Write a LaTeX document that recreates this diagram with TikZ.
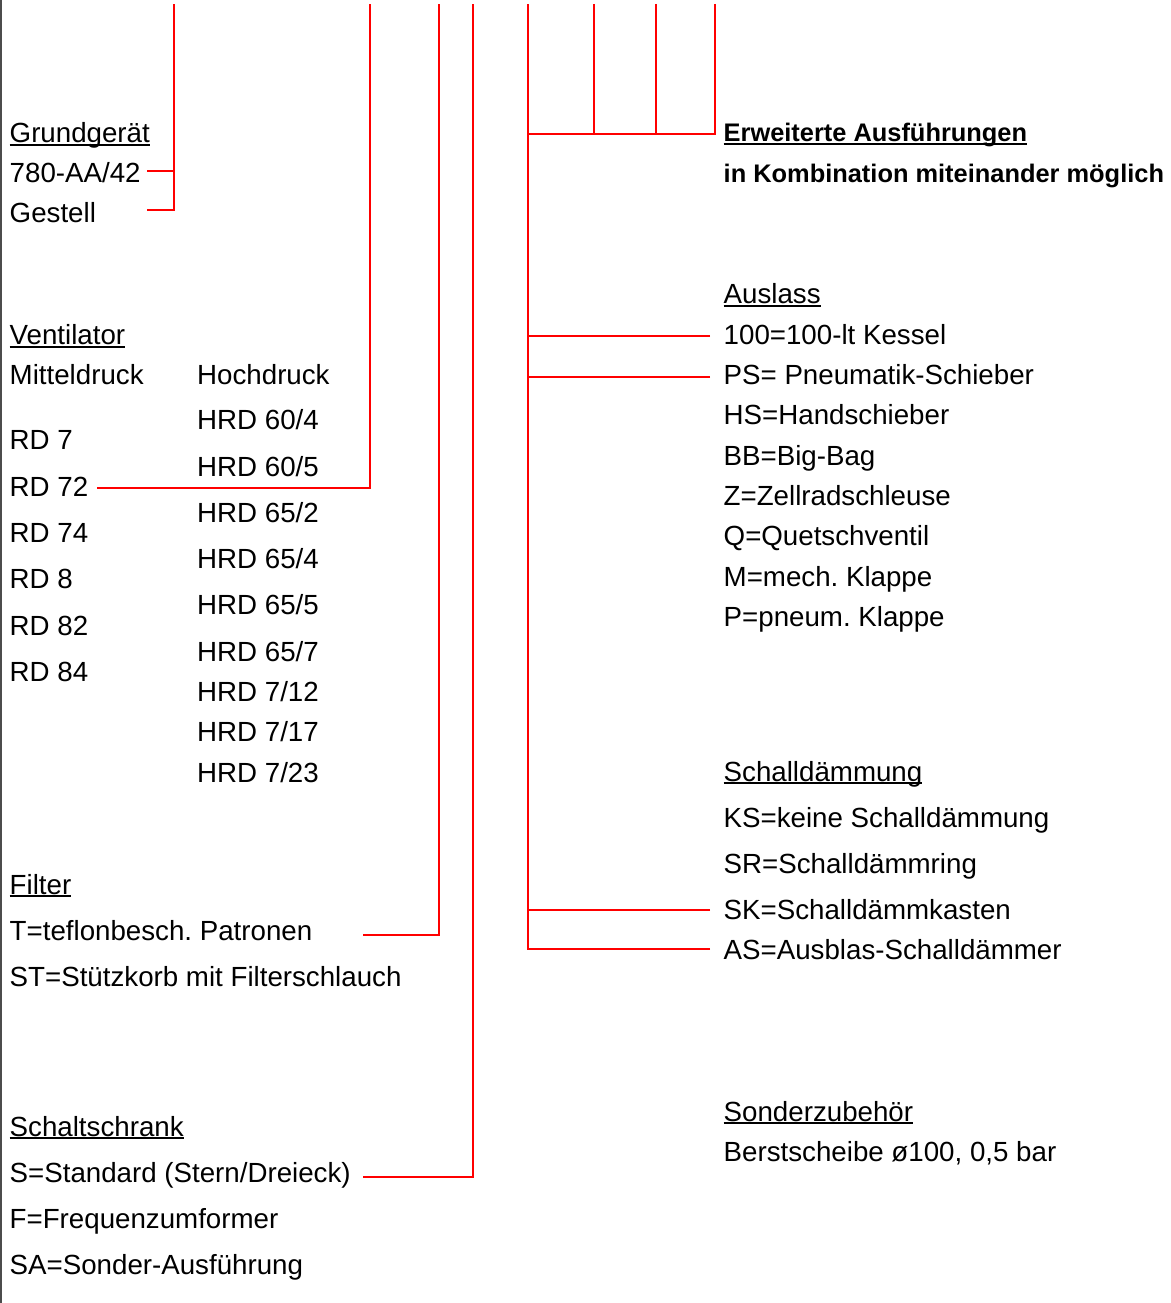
\documentclass[tikz,border=0pt]{standalone}
\usepackage{fontspec}
\setmainfont{Liberation Sans}
\frenchspacing
\newcommand{\ulx}[1]{\setbox0\hbox{#1}\rlap{\copy0}\rule[-3.2pt]{\wd0}{1.9pt}}
\begin{document}
\begin{tikzpicture}[x=1pt,y=-1pt,
  txt/.style={anchor=base west, inner sep=0pt, font=\fontsize{27.7}{33}\selectfont},
  btxt/.style={anchor=base west, inner sep=0pt, font=\fontsize{25.4}{30}\selectfont\bfseries},
  conn/.style={draw=red, line width=1.3pt}]
\useasboundingbox (0,0) rectangle (1170,1303);
\draw[gray!60!black, line width=1.6pt] (1,0) -- (1,1303);
\node[txt] (grund) at (9.5,142.5){\ulx{Grundgerät}};
\node[txt] (aa42) at (9.5,182.5){780-AA/42};
\node[txt] (gestell) at (9.5,222.5){Gestell};
\node[txt] (vent) at (9.5,344.5){\ulx{Ventilator}};
\node[txt] (mittel) at (9.5,384.5){Mitteldruck};
\node[txt] (rd7) at (9.5,449.5){RD 7};
\node[txt] (rd72) at (9.5,496){RD 72};
\node[txt] (rd74) at (9.5,542){RD 74};
\node[txt] (rd8) at (9.5,588.5){RD 8};
\node[txt] (rd82) at (9.5,635){RD 82};
\node[txt] (rd84) at (9.5,681){RD 84};
\node[txt] (hoch) at (197,384.5){Hochdruck};
\node[txt] (hrd604) at (197,429.5){HRD 60/4};
\node[txt] (hrd605) at (197,476){HRD 60/5};
\node[txt] (hrd652) at (197,522){HRD 65/2};
\node[txt] (hrd654) at (197,568){HRD 65/4};
\node[txt] (hrd655) at (197,614){HRD 65/5};
\node[txt] (hrd657) at (197,661){HRD 65/7};
\node[txt] (hrd712) at (197,701){HRD 7/12};
\node[txt] (hrd717) at (197,741){HRD 7/17};
\node[txt] (hrd723) at (197,782){HRD 7/23};
\node[txt] (filter) at (9.5,894){\ulx{Filter}};
\node[txt] (teflon) at (9.5,940){T=teflonbesch. Patronen};
\node[txt] (stuetz) at (9.5,986){ST=Stützkorb mit Filterschlauch};
\node[txt] (schalt) at (9.5,1136){\ulx{Schaltschrank}};
\node[txt] (stand) at (9.5,1182){S=Standard (Stern/Dreieck)};
\node[txt] (freq) at (9.5,1228){F=Frequenzumformer};
\node[txt] (sonder) at (9.5,1274){SA=Sonder-Ausführung};
\node[btxt] (erw) at (723.5,142){\ulx{Erweiterte Ausführungen}};
\node[btxt] (komb) at (723.5,182){in Kombination miteinander möglich};
\node[txt] (auslass) at (723.5,303.5){\ulx{Auslass}};
\node[txt] (kessel) at (723.5,344){100=100-lt Kessel};
\node[txt] (ps) at (723.5,384.5){PS= Pneumatik-Schieber};
\node[txt] (hs) at (723.5,424.5){HS=Handschieber};
\node[txt] (bb) at (723.5,465){BB=Big-Bag};
\node[txt] (zell) at (723.5,505){Z=Zellradschleuse};
\node[txt] (quetsch) at (723.5,545.5){Q=Quetschventil};
\node[txt] (mech) at (723.5,586){M=mech. Klappe};
\node[txt] (pneum) at (723.5,626){P=pneum. Klappe};
\node[txt] (schall) at (723.5,781){\ulx{Schalldämmung}};
\node[txt] (ks) at (723.5,827){KS=keine Schalldämmung};
\node[txt] (sr) at (723.5,873){SR=Schalldämmring};
\node[txt] (sk) at (723.5,919){SK=Schalldämmkasten};
\node[txt] (as) at (723.5,959){AS=Ausblas-Schalldämmer};
\node[txt] (zubeh) at (723.5,1121){\ulx{Sonderzubehör}};
\node[txt] (berst) at (723.5,1161){Berstscheibe ø100, 0,5 bar};
\coordinate (top1) at (174,4);
\coordinate (top2) at (370,4);
\coordinate (top3) at (439,4);
\coordinate (top4) at (473,4);
\coordinate (top5) at (528,4);
\coordinate (top6) at (594,4);
\coordinate (top7) at (656,4);
\coordinate (top8) at (715,4);
\coordinate (aa42r) at (147,171);
\coordinate (gestellr) at (147,210);
\coordinate (rd72r) at (97,488);
\coordinate (teflonr) at (363,935);
\coordinate (standr) at (363,1177);
\coordinate (erwl) at (715,134);
\coordinate (kessell) at (710,336);
\coordinate (psl) at (710,377);
\coordinate (skl) at (710,910);
\coordinate (asl) at (710,949);
\draw[conn] (aa42r) -| (top1);
\draw[conn] (gestellr) -| (top1);
\draw[conn] (rd72r) -| (top2);
\draw[conn] (teflonr) -| (top3);
\draw[conn] (standr) -| (top4);
\draw[conn] (top8) -- (erwl) -| (top5);
\draw[conn] (top6) -- (top6 |- erwl);
\draw[conn] (top7) -- (top7 |- erwl);
\draw[conn] (kessell) -| (top5);
\draw[conn] (psl) -| (top5);
\draw[conn] (skl) -| (top5);
\draw[conn] (asl) -| (top5);
\end{tikzpicture}
\end{document}
